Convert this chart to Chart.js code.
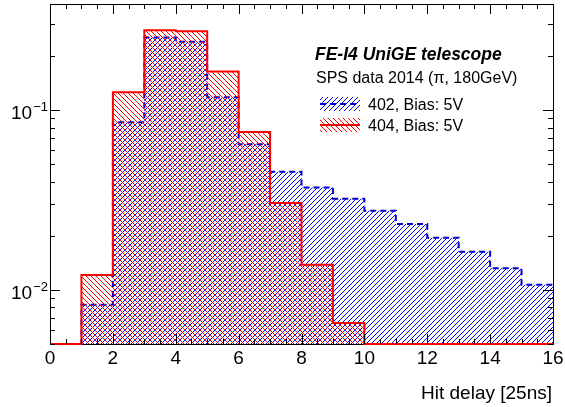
<!DOCTYPE html>
<html>
<head>
<meta charset="utf-8">
<script src="https://cdn.jsdelivr.net/npm/chart.js@4.4.1/dist/chart.umd.min.js"></script>
<style>
  html, body { margin: 0; padding: 0; background: #fff; }
  #wrap { position: relative; width: 565px; height: 407px; }
</style>
</head>
<body>
<div id="wrap"><canvas id="hitDelay" width="565" height="407"></canvas></div>
<script>
// hit delay histograms, 1 bin = 25ns, normalised to unit area
const binEdges = [0, 1, 2, 3, 4, 5, 6, 7, 8, 9, 10, 11, 12, 13, 14, 15, 16];
const sensor402 = [0, 0.00828, 0.0857, 0.254, 0.2406, 0.1182, 0.0646, 0.0455, 0.0372, 0.0322, 0.0276, 0.0233, 0.0195, 0.0163, 0.0132, 0.0107];
const sensor404 = [0, 0.0121, 0.126, 0.279, 0.275, 0.1644, 0.0757, 0.0305, 0.0138, 0.00655, 0, 0, 0, 0, 0, 0];
const xTickLabels = [0, 2, 4, 6, 8, 10, 12, 14, 16];
const yTickLabels = [0.01, 0.1];
const yMin = 0.005;
const yMax = 0.39;
const legendTitle = 'FE-I4 UniGE telescope';
const legendSubtitle = 'SPS data 2014 (\u03c0, 180GeV)';
const legendLabels = ['402, Bias: 5V', '404, Bias: 5V'];
const xTitle = 'Hit delay [25ns]';

const FONT = '"Liberation Sans", Arial, Helvetica, sans-serif';
const canvas = document.getElementById('hitDelay');
const ctx = canvas.getContext('2d');

// hatch fill, one pixel diagonal per tile
function hatch(color, dir) {
  const n = 5;
  const tile = document.createElement('canvas');
  tile.width = n;
  tile.height = n;
  const c = tile.getContext('2d');
  c.fillStyle = color;
  for (let i = 0; i < n; i++) {
    const y = dir === '/' ? n - 1 - i : i;
    c.fillRect(i, y, 1, 1);
  }
  return ctx.createPattern(tile, 'repeat');
}

// histogram -> step points (empty bins sit on the axis floor)
function toSteps(values) {
  const pts = values.map((v, i) => ({ x: binEdges[i], y: v > 0 ? v : yMin }));
  const last = values[values.length - 1];
  pts.push({ x: binEdges[binEdges.length - 1], y: last > 0 ? last : yMin });
  return pts;
}

const frame = {
  id: 'frame',
  beforeDatasetsDraw(chart) {
    const { ctx, chartArea: a } = chart;
    ctx.save();
    ctx.strokeStyle = '#000';
    ctx.lineWidth = 1;
    ctx.strokeRect(a.left + 0.5, a.top + 0.5, a.right - a.left, a.bottom - a.top);
    ctx.restore();
  },
  afterDatasetsDraw(chart) {
    const { ctx, chartArea: a, scales } = chart;
    const xs = scales.x, ys = scales.y;
    ctx.save();
    ctx.strokeStyle = '#000';
    ctx.lineWidth = 1;
    ctx.beginPath();
    // x ticks every 0.5, long ones at labels
    for (let v = xs.min; v <= xs.max + 1e-9; v += 0.5) {
      const px = Math.round(xs.getPixelForValue(v)) + 0.5;
      const len = xTickLabels.includes(v) ? 10 : 5;
      ctx.moveTo(px, a.bottom); ctx.lineTo(px, a.bottom - len);
      ctx.moveTo(px, a.top); ctx.lineTo(px, a.top + len);
    }
    // log y ticks
    for (let e = -3; e <= 0; e++) {
      for (let m = 1; m <= 9; m++) {
        const v = m * Math.pow(10, e);
        if (v < yMin * 0.999 || v > yMax) continue;
        const py = Math.round(ys.getPixelForValue(v)) + 0.5;
        const len = m === 1 ? 10 : 5;
        ctx.moveTo(a.left, py); ctx.lineTo(a.left + len, py);
        ctx.moveTo(a.right, py); ctx.lineTo(a.right - len, py);
      }
    }
    ctx.stroke();

    ctx.fillStyle = '#000';
    ctx.font = '19px ' + FONT;
    ctx.textAlign = 'center';
    ctx.textBaseline = 'alphabetic';
    xTickLabels.forEach(v => ctx.fillText(String(v), xs.getPixelForValue(v), 364));

    yTickLabels.forEach(v => {
      const py = ys.getPixelForValue(v);
      const exp = '\u2212' + Math.abs(Math.round(Math.log10(v)));
      ctx.font = '13px ' + FONT;
      const ew = ctx.measureText(exp).width;
      ctx.textAlign = 'right';
      ctx.fillText(exp, 48, py + 1);
      ctx.font = '19px ' + FONT;
      ctx.fillText('10', 48 - ew - 1, py + 8.7);
    });

    ctx.font = '19px ' + FONT;
    ctx.textAlign = 'right';
    ctx.fillText(xTitle, 552, 399);

    // legend block
    ctx.textAlign = 'left';
    ctx.font = 'italic bold 17.5px ' + FONT;
    ctx.fillText(legendTitle, 315, 59.5);
    ctx.font = '16px ' + FONT;
    ctx.fillText(legendSubtitle, 316, 82.7);
    [1, 0].forEach((di, row) => {
      const ds = chart.data.datasets[di];
      const top = 97 + row * 21;
      ctx.fillStyle = ds.backgroundColor;
      ctx.fillRect(320, top, 40, 14);
      ctx.beginPath();
      ctx.strokeStyle = ds.borderColor;
      ctx.lineWidth = ds.borderWidth;
      ctx.setLineDash(ds.borderDash || []);
      ctx.moveTo(320, top + 7);
      ctx.lineTo(360, top + 7);
      ctx.stroke();
      ctx.setLineDash([]);
      ctx.fillStyle = '#000';
      ctx.fillText(legendLabels[row], 368, top + 13);
    });
    ctx.restore();
  }
};

new Chart(ctx, {
  type: 'line',
  data: {
    datasets: [{
      label: legendLabels[1],
      data: toSteps(sensor404),
      stepped: 'before',
      borderColor: '#ff0000',
      borderWidth: 2,
      backgroundColor: hatch('#ff0000', '\\'),
      fill: 'start',
      pointRadius: 0,
      clip: false
    }, {
      label: legendLabels[0],
      data: toSteps(sensor402),
      stepped: 'before',
      borderColor: '#0000d0',
      borderWidth: 2,
      borderDash: [6, 4],
      backgroundColor: hatch('#0000ff', '/'),
      fill: 'start',
      pointRadius: 0,
      clip: false
    }]
  },
  options: {
    responsive: false,
    devicePixelRatio: 1,
    animation: false,
    layout: { padding: { left: 50, right: 12, top: 4, bottom: 63 } },
    scales: {
      x: { type: 'linear', min: 0, max: 16, display: false },
      y: { type: 'logarithmic', min: yMin, max: yMax, display: false }
    },
    plugins: { legend: { display: false }, tooltip: { enabled: false } }
  },
  plugins: [frame]
});
</script>
</body>
</html>
